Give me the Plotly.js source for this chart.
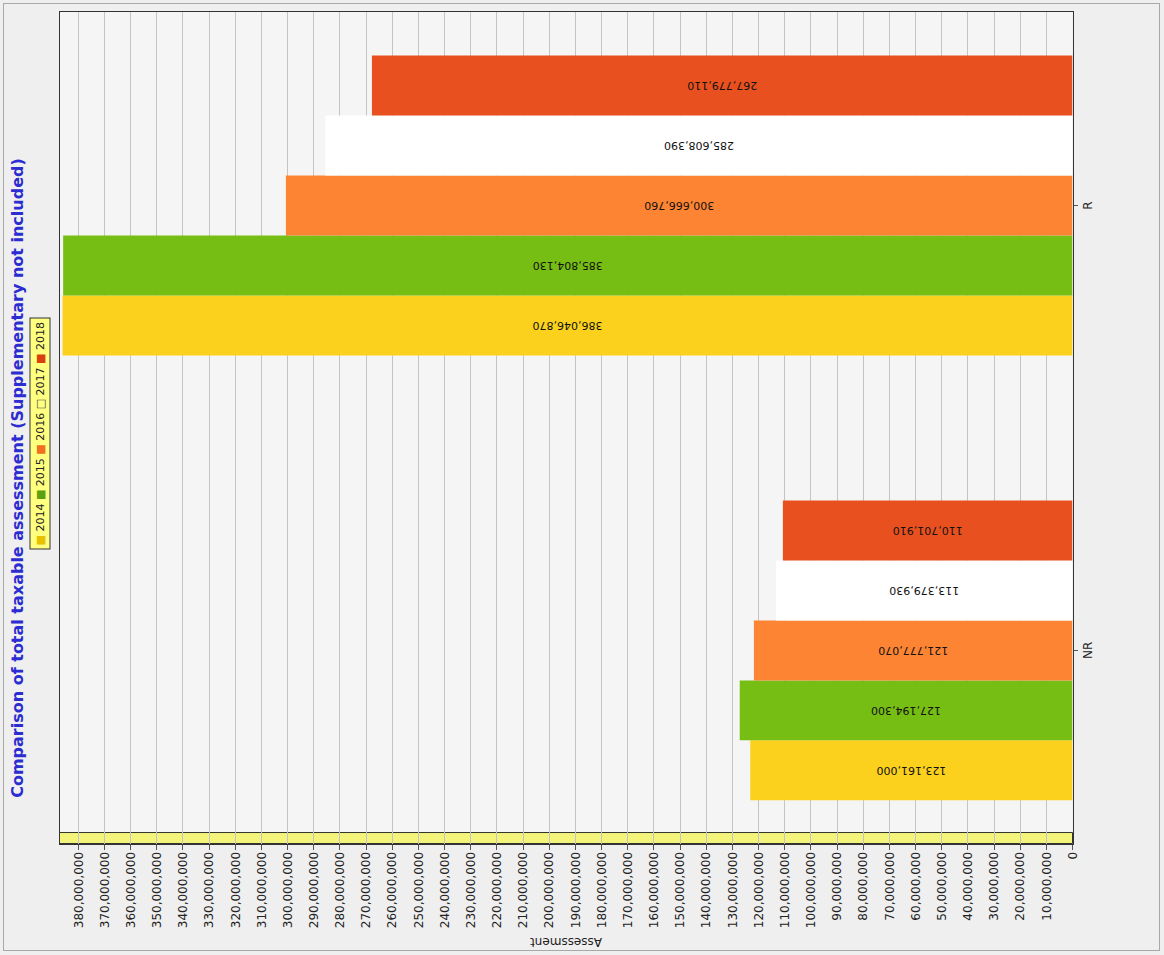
<!DOCTYPE html>
<html>
<head>
<meta charset="utf-8">
<script src="https://cdn.plot.ly/plotly-3.0.1.min.js"></script>
<style>
  html, body { margin: 0; padding: 0; width: 1164px; height: 955px; overflow: hidden; background: #EFEFEF; }
  #chart { position: absolute; left: 104.5px; top: -104.5px; width: 955px; height: 1164px; transform: rotate(-90deg); transform-origin: 50% 50%; }
  #frame { position: absolute; left: 3px; top: 3px; width: 1155px; height: 946px; border: 1px solid #A8A8A8; pointer-events: none; }
</style>
</head>
<body>
<div id="chart"></div>
<div id="frame"></div>
<script>
// Data
const categories = ['NR', 'R'];
const years = ['2014', '2015', '2016', '2017', '2018'];
const values2014 = [123161000, 386046870];
const values2015 = [127194300, 385804130];
const values2016 = [121777070, 300666760];
const values2017 = [113379930, 285608390];
const values2018 = [110701910, 267779110];
const seriesValues = [values2014, values2015, values2016, values2017, values2018];
const colors = ['#FBD11E', '#76BD14', '#FD8433', '#FFFFFF', '#E8511F'];
const legendMarks = ['■', '■', '■', '□', '■'];
const legendMarkColors = ['#E8C000', '#5FA010', '#F07020', '#444444', '#D84010'];

const traces = years.map((yr, i) => ({
  type: 'bar',
  name: yr,
  x: categories,
  y: seriesValues[i],
  marker: { color: colors[i], line: { width: 0 } },
  text: seriesValues[i].map(v => v.toLocaleString('en-US')),
  textposition: 'inside',
  insidetextanchor: 'middle',
  textangle: -90,
  constraintext: 'none',
  insidetextfont: { family: 'DejaVu Sans', size: 11, color: '#111111' },
  hoverinfo: 'name+y'
}));

const legendText = years.map((yr, i) =>
  '<span style="color:' + legendMarkColors[i] + '">' + legendMarks[i] + '</span> ' + yr
).join(' ');

const layout = {
  width: 955,
  height: 1164,
  margin: { l: 112, r: 11, t: 59, b: 92, pad: 0 },
  paper_bgcolor: '#EFEFEF',
  plot_bgcolor: '#F5F5F5',
  barmode: 'group',
  bargap: 0.326,
  bargroupgap: 0,
  showlegend: false,
  font: { family: 'DejaVu Sans', size: 12, color: '#222222' },
  title: {
    text: 'Comparison of total taxable assessment (Supplementary not included)',
    font: { family: 'DejaVu Sans', size: 16, color: '#2C2CD0', weight: 'bold' },
    x: 0.5, xref: 'container', xanchor: 'center',
    y: 0.9854, yref: 'container', yanchor: 'middle'
  },
  xaxis: {
    type: 'category',
    range: [-0.434, 1.436],
    showline: true, mirror: true, linecolor: '#333333', linewidth: 1,
    ticks: 'outside', ticklen: 4, tickcolor: '#555555',
    showgrid: false,
    tickfont: { family: 'DejaVu Sans', size: 12, color: '#222222' },
    automargin: false
  },
  yaxis: {
    range: [0, 387200000],
    dtick: 10000000,
    tickformat: ',d',
    showline: true, mirror: true, linecolor: '#333333', linewidth: 1,
    ticks: 'outside', ticklen: 5, tickcolor: '#555555',
    showgrid: true, gridcolor: '#C4C4C4', gridwidth: 1,
    zeroline: false,
    tickfont: { family: 'DejaVu Sans', size: 12, color: '#222222' },
    title: { text: 'Assessment', font: { family: 'DejaVu Sans', size: 12, color: '#222222' }, standoff: 6 },
    automargin: false
  },
  shapes: [{
    type: 'rect', xref: 'paper', yref: 'paper',
    x0: 0, x1: 0.0132, y0: 0, y1: 1,
    fillcolor: '#F4F47A', line: { color: '#333333', width: 1 },
    layer: 'between'
  }],
  annotations: [{
    xref: 'paper', yref: 'paper',
    x: 0.493, y: 1.019, xanchor: 'center', yanchor: 'middle',
    text: legendText,
    showarrow: false,
    font: { family: 'DejaVu Sans', size: 11, color: '#222222' },
    bgcolor: '#FFFF80', bordercolor: '#333333', borderwidth: 1, borderpad: 3
  }]
};

Plotly.newPlot('chart', traces, layout, { displayModeBar: false, staticPlot: true });
</script>
</body>
</html>
